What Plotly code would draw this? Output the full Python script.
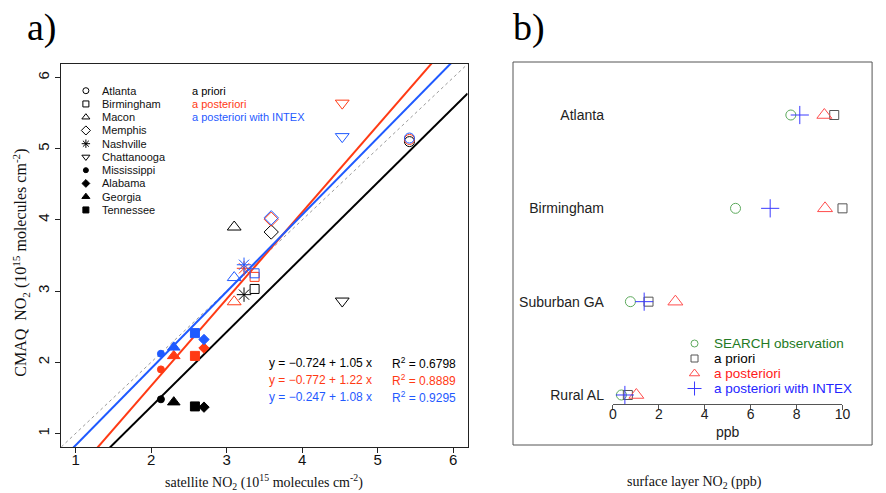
import plotly.graph_objects as go

W, H = 886, 493

# ---------------- data: panel a ----------------
cities = ["Atlanta", "Birmingham", "Macon", "Memphis", "Nashville", "Chattanooga",
          "Mississippi", "Alabama", "Georgia", "Tennessee"]
satellite = [5.42, 3.37, 3.10, 3.59, 3.23, 4.53, 2.13, 2.70, 2.30, 2.58]
cmaq_apriori = [5.10, 3.03, 3.90, 3.83, 2.95, 2.86, 1.48, 1.37, 1.44, 1.38]
cmaq_post = [5.13, 3.20, 2.85, 4.01, 3.32, 5.64, 1.90, 2.20, 2.09, 2.09]
cmaq_intex = [5.15, 3.25, 3.19, 4.03, 3.37, 5.17, 2.12, 2.32, 2.21, 2.41]

fit_names = ["a priori", "a posteriori", "a posteriori with INTEX"]
fit_intercepts = [-0.724, -0.772, -0.247]
fit_slopes = [1.05, 1.22, 1.08]
fit_r2 = ["0.6798", "0.8889", "0.9295"]

x_ticks = [1, 2, 3, 4, 5, 6]
y_ticks = [1, 2, 3, 4, 5, 6]

# ---------------- data: panel b ----------------
sites = ["Atlanta", "Birmingham", "Suburban GA", "Rural AL"]
search_obs = [7.75, 5.34, 0.76, 0.37]
site_apriori = [9.64, 10.0, 1.55, 0.65]
site_post = [9.21, 9.24, 2.72, 1.02]
site_intex = [8.14, 6.85, 1.36, 0.52]
ppb_ticks = [0, 2, 4, 6, 8, 10]
b_legend = ["SEARCH observation", "a priori", "a posteriori", "a posteriori with INTEX"]

# ---------------- styles ----------------
SANS = "Liberation Sans, Arial, sans-serif"
SERIF = "Liberation Serif, Times New Roman, serif"
BLACK, RED, BLUE = "#000000", "#FF3A14", "#1F5AFF"
run_colors = [BLACK, RED, BLUE]
city_symbols = ["circle-open", "square-open", "triangle-up-open", "diamond-open", "asterisk-open",
                "triangle-down-open", "circle", "diamond", "triangle-up", "square"]
city_sizes = [10, 9, 12, 11, 12, 12, 7, 8, 11, 9]
legend_sizes = [6, 6, 7, 7, 7, 7, 5, 6, 7, 6]

b_colors_mark = ["#5DAA5D", "#555555", "#FF4D4D", "#3A3AFF"]
b_colors_text = ["#237A23", "#000000", "#FF1A1A", "#2424FF"]
b_symbols = ["circle-open", "square-open", "triangle-up-open", "cross-thin-open"]
b_sizes = [10, 9, 13, 13]
b_leg_sizes = [7, 7, 9, 10]

XR = [0.81, 6.19]
YR = [0.81, 6.19]

fig = go.Figure()

# 1:1 dotted line
fig.add_trace(go.Scatter(x=XR, y=XR, mode="lines", xaxis="x", yaxis="y",
                         line=dict(color="#9A9A9A", width=1, dash="dot"), showlegend=False))

# regression lines
for k in range(3):
    fig.add_trace(go.Scatter(x=XR, y=[fit_intercepts[k] + fit_slopes[k] * v for v in XR],
                             mode="lines", xaxis="x", yaxis="y",
                             line=dict(color=run_colors[k], width=2), showlegend=False))

# points
for k, series in enumerate([cmaq_apriori, cmaq_post, cmaq_intex]):
    for i in range(len(cities)):
        fig.add_trace(go.Scatter(x=[satellite[i]], y=[series[i]], mode="markers",
                                 xaxis="x", yaxis="y", showlegend=False,
                                 marker=dict(symbol=city_symbols[i], size=city_sizes[i],
                                             color=run_colors[k],
                                             line=dict(width=1, color=run_colors[k]))))

# ---------------- pixel overlay for legend keys ----------------
leg_x, leg_y0, leg_dy = 83, 90.7, 13.25
for i in range(len(cities)):
    fig.add_trace(go.Scatter(x=[leg_x], y=[leg_y0 + i * leg_dy], mode="markers",
                             xaxis="x3", yaxis="y3", showlegend=False, cliponaxis=False,
                             marker=dict(symbol=city_symbols[i], size=legend_sizes[i], color=BLACK,
                                         line=dict(width=1, color=BLACK))))

bl_x, bl_y0, bl_dy = 700, 343.5, 15
for j in range(4):
    fig.add_trace(go.Scatter(x=[bl_x], y=[bl_y0 + j * bl_dy], mode="markers",
                             xaxis="x3", yaxis="y3", showlegend=False, cliponaxis=False,
                             marker=dict(symbol=b_symbols[j], size=b_leg_sizes[j], color=b_colors_mark[j],
                                         line=dict(width=1, color=b_colors_mark[j]))))

# ---------------- panel b points ----------------
ypos = [len(sites) - i for i in range(len(sites))]
for j, series in enumerate([search_obs, site_apriori, site_post, site_intex]):
    fig.add_trace(go.Scatter(x=series, y=ypos, mode="markers", xaxis="x2", yaxis="y2",
                             showlegend=False, cliponaxis=False,
                             marker=dict(symbol=b_symbols[j], size=b_sizes[j], color=b_colors_mark[j],
                                         line=dict(width=1, color=b_colors_mark[j]))))

def px(x):
    return x / W

def py(y):
    return 1 - y / H

annotations = []
# panel a legend texts
for i, c in enumerate(cities):
    annotations.append(dict(x=px(97), y=py(leg_y0 + i * leg_dy), xref="paper", yref="paper",
                            text=c, showarrow=False, xanchor="left", yanchor="middle",
                            font=dict(family=SANS, size=11, color="#111111")))
for k, n in enumerate(fit_names):
    annotations.append(dict(x=px(189), y=py(leg_y0 + k * leg_dy), xref="paper", yref="paper",
                            text=n, showarrow=False, xanchor="left", yanchor="middle",
                            font=dict(family=SANS, size=11, color=run_colors[k])))
# equations
for k in range(3):
    eq = "y = \u2212%.3f + %.2f x" % (abs(fit_intercepts[k]), fit_slopes[k])
    annotations.append(dict(x=px(267), y=py(362.5 + k * 17.2), xref="paper", yref="paper",
                            text=eq, showarrow=False, xanchor="left", yanchor="middle",
                            font=dict(family=SANS, size=12, color=run_colors[k])))
    annotations.append(dict(x=px(391), y=py(362.5 + k * 17.2), xref="paper", yref="paper",
                            text="R<sup>2</sup> = " + fit_r2[k], showarrow=False,
                            xanchor="left", yanchor="middle",
                            font=dict(family=SANS, size=12, color=run_colors[k])))
# panel b legend
for j, n in enumerate(b_legend):
    annotations.append(dict(x=px(718), y=py(bl_y0 + j * bl_dy), xref="paper", yref="paper",
                            text=n, showarrow=False, xanchor="left", yanchor="middle",
                            font=dict(family=SANS, size=13.5, color=b_colors_text[j])))
# titles
annotations.append(dict(x=px(264), y=py(482), xref="paper", yref="paper", showarrow=False,
                        xanchor="center", yanchor="middle",
                        text="satellite NO<sub>2</sub> (10<sup>15</sup> molecules cm<sup>-2</sup>)",
                        font=dict(family=SERIF, size=14, color="#111111")))
annotations.append(dict(x=px(17), y=py(263), xref="paper", yref="paper", showarrow=False,
                        textangle=-90, xanchor="center", yanchor="middle",
                        text="CMAQ  NO<sub>2</sub> (10<sup>15</sup> molecules cm<sup>-2</sup>)",
                        font=dict(family=SERIF, size=16, color="#111111")))
annotations.append(dict(x=px(700), y=py(482), xref="paper", yref="paper", showarrow=False,
                        xanchor="center", yanchor="middle",
                        text="surface layer NO<sub>2</sub> (ppb)",
                        font=dict(family=SERIF, size=14, color="#111111")))
annotations.append(dict(x=px(734), y=py(432), xref="paper", yref="paper", showarrow=False,
                        xanchor="center", yanchor="middle",
                        text="ppb", font=dict(family=SANS, size=14, color="#222222")))
annotations.append(dict(x=px(39), y=py(28), xref="paper", yref="paper", showarrow=False,
                        xanchor="center", yanchor="middle",
                        text="a)", font=dict(family=SERIF, size=38, color="#000000")))
annotations.append(dict(x=px(532), y=py(28), xref="paper", yref="paper", showarrow=False,
                        xanchor="center", yanchor="middle",
                        text="b)", font=dict(family=SERIF, size=38, color="#000000")))

shapes = [dict(type="rect", xref="paper", yref="paper", x0=px(516), x1=px(880), y0=py(445), y1=py(62),
               line=dict(color="#555555", width=1), fillcolor="rgba(0,0,0,0)")]

fig.update_layout(
    width=W, height=H, margin=dict(l=0, r=0, t=0, b=0),
    paper_bgcolor="white", plot_bgcolor="rgba(0,0,0,0)", showlegend=False,
    annotations=annotations, shapes=shapes,
    xaxis=dict(domain=[px(58), px(470)], range=XR, anchor="y", showline=True, mirror=True,
               linecolor="#222222", linewidth=1, ticks="outside", ticklen=5, tickcolor="#222222",
               tickvals=x_ticks, showgrid=False, zeroline=False, ticklabelstandoff=-6,
               tickfont=dict(family=SANS, size=15, color="#111111")),
    yaxis=dict(domain=[py(447), py(64)], range=YR, anchor="x", showline=True, mirror=True,
               linecolor="#222222", linewidth=1, ticks="outside", ticklen=5, tickcolor="#222222",
               tickvals=y_ticks, showgrid=False, zeroline=False, tickangle=-90,
               tickfont=dict(family=SANS, size=15, color="#111111")),
    xaxis2=dict(domain=[px(617.3), px(850)], range=[0, 10], anchor="y2", showline=True,
                linecolor="#555555", linewidth=1, ticks="outside", ticklen=5, tickcolor="#555555",
                tickvals=ppb_ticks, showgrid=False, zeroline=False, ticklabelstandoff=-8,
                tickfont=dict(family=SANS, size=14, color="#222222")),
    yaxis2=dict(domain=[py(404), py(62)], range=[0.9035, 4.568], anchor="x2", showline=False,
                ticks="", tickvals=ypos, ticktext=sites, showgrid=False, zeroline=False,
                ticklabelstandoff=8,
                tickfont=dict(family=SANS, size=14, color="#222222")),
    xaxis3=dict(domain=[0, 1], range=[0, W], visible=False, anchor="y3", fixedrange=True),
    yaxis3=dict(domain=[0, 1], range=[H, 0], visible=False, anchor="x3", fixedrange=True),
)

fig.write_html("out.html")
